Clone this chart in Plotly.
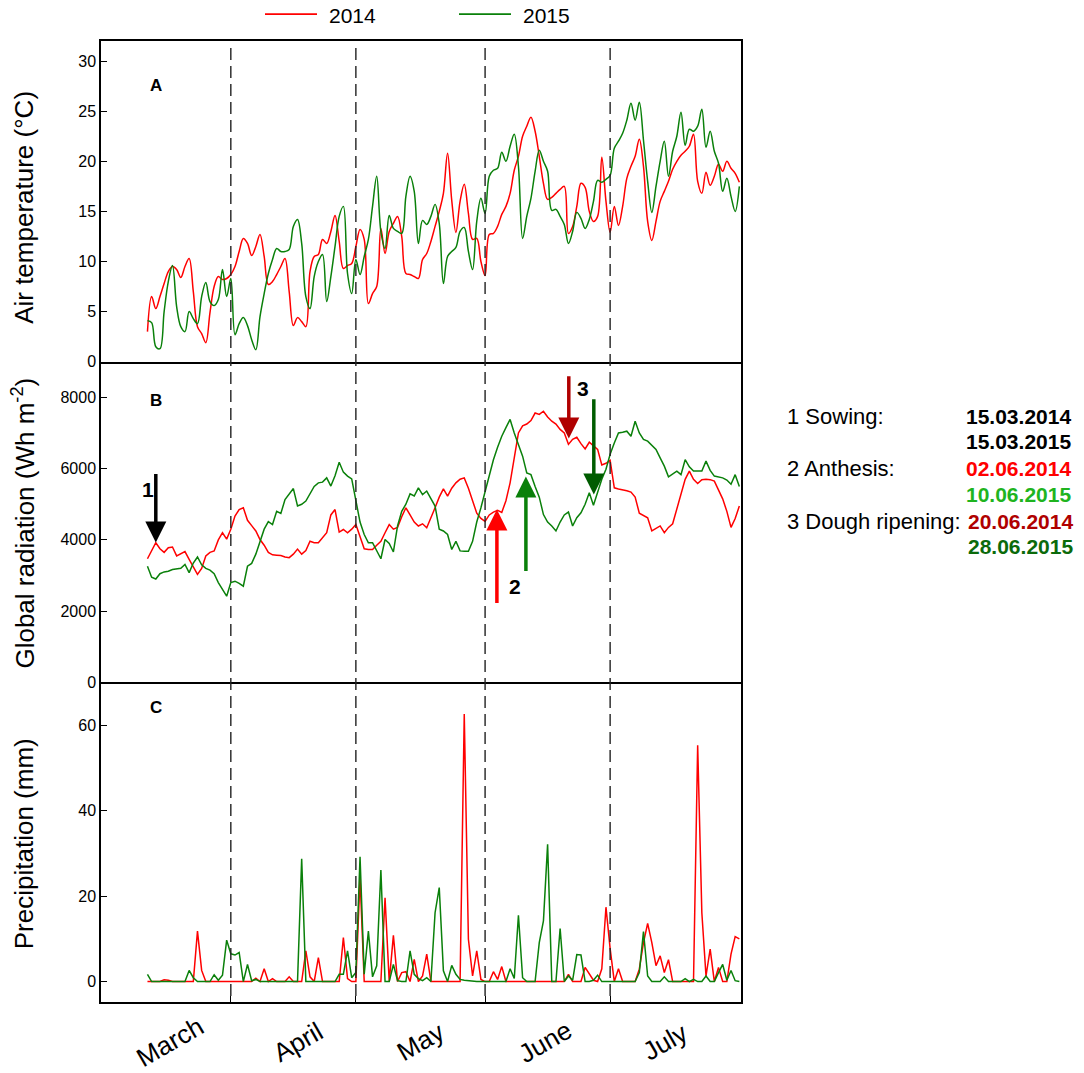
import pandas as pd
import plotly.graph_objects as go
from plotly.subplots import make_subplots

# Daily weather, 12 March - 1 August (both seasons drawn on one calendar axis)
start_day = "2014-03-12"

temp_2014 = [3.0, 6.5, 5.3, 6.5, 7.8, 9.0, 9.5, 9.2, 8.4, 9.5,
             10.3, 7.0, 3.5, 2.8, 1.9, 4.9, 7.5, 8.5, 8.2, 8.3,
             8.7, 9.5, 11.0, 12.3, 11.8, 10.6, 11.5, 12.7, 10.5, 7.7,
             8.0, 8.7, 9.5, 10.3, 7.0, 3.6, 4.4, 4.0, 3.5, 9.0,
             10.5, 10.7, 12.2, 11.8, 13.0, 14.6, 12.0, 9.3, 9.6, 9.8,
             11.5, 13.2, 12.2, 5.8, 6.8, 7.5, 13.3, 10.8, 13.0, 13.8,
             14.5, 12.5, 8.8, 8.7, 8.5, 8.3, 10.2, 10.8, 12.0, 13.5,
             15.0, 16.8, 20.8, 16.1, 12.9, 16.0, 17.7, 14.8, 12.2, 12.3,
             10.0, 8.6, 12.7, 12.8, 13.5, 14.7, 15.5, 16.8, 19.1, 20.5,
             22.5, 23.5, 24.4, 23.0, 20.5, 17.8, 16.2, 16.4, 16.8, 17.2,
             17.5, 12.8, 13.5, 15.5, 17.8, 17.4, 15.0, 14.0, 14.5, 20.4,
             16.0, 12.9, 15.5, 13.6, 15.5, 18.3, 19.5, 20.5, 22.2, 19.5,
             14.0, 12.1, 14.0, 16.0, 17.0, 18.0, 19.2, 20.0, 20.6, 21.0,
             21.5, 22.7, 18.0, 16.8, 18.9, 17.6, 18.5, 19.7, 19.0, 20.0,
             19.3, 18.8, 17.9]

temp_2015 = [4.1, 3.9, 1.5, 1.3, 5.0, 8.0, 9.6, 5.5, 3.5, 3.0,
             5.0, 4.3, 3.8, 6.5, 7.9, 6.0, 5.6, 6.2, 9.2, 6.5,
             8.3, 2.7, 3.8, 4.4, 3.6, 2.2, 1.2, 4.5, 6.8, 8.8,
             10.2, 11.3, 11.0, 11.0, 11.2, 13.5, 14.2, 11.8, 6.5, 5.3,
             8.5, 10.0, 10.7, 6.0, 8.5, 11.5, 14.5, 15.5, 8.8, 6.8,
             10.2, 8.7, 10.5, 12.2, 15.5, 18.5, 13.0, 11.3, 14.6, 13.3,
             13.0, 12.8, 16.5, 18.5, 17.0, 11.8, 14.1, 13.7, 14.5, 15.7,
             13.8, 7.8, 10.5, 11.0, 11.4, 13.0, 13.4, 11.0, 9.2, 14.0,
             16.3, 14.8, 18.5, 19.1, 19.3, 20.9, 20.0, 21.5, 22.7, 19.5,
             12.3, 14.5, 16.3, 19.0, 21.1, 20.0, 19.0, 15.1, 15.2, 14.5,
             13.7, 11.8, 13.0, 14.9, 14.3, 13.3, 14.2, 16.0, 18.1, 17.9,
             18.2, 18.6, 21.3, 22.0, 22.8, 24.1, 25.8, 24.1, 25.9, 22.1,
             18.0, 14.9, 17.5, 20.0, 22.0, 18.5, 21.0, 22.5, 24.9, 21.6,
             23.2, 23.0, 23.5, 25.2, 21.4, 23.0, 21.0, 19.8, 17.0, 18.3,
             16.5, 15.0, 17.5]

rad_2014 = [3470, 3700, 3920, 3750, 3650, 3780, 3800, 3550, 3600, 3670,
            3450, 3250, 3030, 3200, 3550, 3650, 3690, 4000, 4200, 4020,
            4300, 4670, 4850, 4900, 4550, 4400, 4250, 4010, 3850, 3650,
            3580, 3570, 3560, 3520, 3500, 3600, 3740, 3600, 3700, 3960,
            3920, 3920, 4050, 4200, 4700, 4850, 4220, 4290, 4200, 4300,
            4430, 4100, 3750, 3730, 3730, 3850, 3960, 4200, 4430, 4300,
            4350, 4650, 4900, 4700, 4500, 4390, 4450, 4340, 4600, 4900,
            5200, 5430, 5230, 5450, 5600, 5700, 5740, 5450, 5100, 4750,
            4600, 4520, 4700, 4780, 4830, 4770, 5100, 5600, 6300, 7000,
            7200, 7250, 7350, 7560, 7520, 7610, 7450, 7330, 7250, 7100,
            7000, 6680, 6820, 6880, 6700, 6550, 6740, 6650, 6540, 6100,
            6150, 6230, 5460, 5430, 5410, 5380, 5340, 5200, 4750, 4680,
            4620, 4250, 4330, 4390, 4200, 4350, 4450, 4850, 5250, 5700,
            5930, 5700, 5580, 5690, 5700, 5690, 5650, 5400, 5150, 4800,
            4350, 4600, 4950]

rad_2015 = [3260, 2950, 2900, 3050, 3100, 3120, 3170, 3180, 3200, 3310,
            3080, 3350, 3520, 3300, 3200, 3150, 3050, 2800, 2600, 2420,
            2800, 2840, 2780, 2700, 3260, 3340, 3600, 3960, 4300, 4510,
            4430, 4800, 4740, 5130, 5300, 5440, 4950, 5000, 5090, 5300,
            5500, 5600, 5620, 5740, 5510, 5800, 6180, 5900, 5790, 5710,
            5100, 4500, 4150, 3920, 3920, 3700, 3470, 4010, 3900, 3660,
            4390, 4800, 5000, 5290, 5230, 5460, 5270, 5370, 5150, 4950,
            4300, 4250, 4150, 3730, 3960, 3690, 3680, 3680, 3960, 4500,
            4900, 5370, 5800, 6250, 6600, 6910, 7150, 7380, 7000, 6700,
            6350, 5880, 5830, 5500, 5200, 4710, 4500, 4390, 4250, 4500,
            4700, 4780, 4390, 4620, 4760, 5000, 5320, 4970, 5370, 5700,
            5980, 6400, 6720, 7000, 7020, 7050, 6910, 7330, 7000, 6820,
            6770, 6650, 6540, 6300, 6070, 5770, 5850, 5930, 5830, 6250,
            6050, 5930, 5930, 5930, 6210, 5950, 5790, 5760, 5740, 5680,
            5560, 5830, 5500]

prec_2014 = [0, 0, 0, 0, 0.4, 0.3, 0, 0, 0, 0,
             0, 0, 11.8, 2.6, 0, 0, 0, 0, 0, 0,
             0, 0, 0, 0, 0, 0, 0.8, 0, 3.0, 0,
             0.7, 0, 0, 0, 1.1, 0, 0, 0, 7.2, 1.1,
             0, 5.6, 0, 0, 0, 0, 0, 10.3, 0.7, 0,
             0, 24.3, 0, 0, 0, 0, 0, 19.6, 0, 10.8,
             0, 2.1, 2.3, 0, 5.2, 0, 1.3, 6.4, 0, 0,
             0, 0, 0, 0, 0, 0, 62.6, 9.9, 1.3, 7.2,
             0.5, 0, 0, 2.3, 0.5, 3.5, 0, 0, 0, 0,
             0, 0, 0, 0, 0, 0, 0, 0, 0, 0,
             0, 1.7, 0, 0, 0, 3.3, 1.7, 0.3, 0, 3.0,
             17.4, 7.7, 0, 3.0, 0, 0, 0, 0, 2.9, 9.1,
             13.6, 9.1, 3.7, 6.0, 2.1, 5.1, 0, 0, 0, 0,
             0, 0, 55.3, 16.1, 1.3, 7.6, 0, 3.3, 0, 0,
             6.4, 10.5, 10.0]

prec_2015 = [1.7, 0, 0, 0, 0, 0, 0, 0, 0, 0,
             2.6, 0.9, 0, 0, 0, 0, 1.6, 0.3, 1.5, 9.7,
             6.5, 6.2, 6.8, 0, 4.0, 0.2, 0.5, 0, 0, 0,
             0, 0, 0, 0, 0, 0, 0, 28.7, 0, 0,
             0, 0, 0, 0, 0, 0, 1.7, 1.7, 7.2, 0.9,
             2.1, 29.2, 1.7, 11.8, 1.1, 3.7, 26.1, 0, 0, 4.0,
             0.2, 0, 0, 7.2, 1.7, 0.7, 0.2, 0.9, 0, 16.1,
             22.0, 2.5, 0, 3.8, 1.7, 0.5, 0.3, 0.2, 0, 0,
             0, 0, 0, 0, 0, 0, 0, 3.0, 0.7, 15.5,
             0.9, 0, 0, 0, 9.1, 14.2, 32.1, 0, 0, 12.4,
             0, 1.3, 0.3, 6.3, 6.2, 0, 0, 0.3, 1.5, 0,
             0, 0, 0, 0, 0, 0, 0, 0, 2.1, 11.7,
             1.3, 0, 0, 0, 1.1, 0, 0, 0, 0, 0.7,
             0, 0.5, 0, 0, 1.3, 0, 0, 2.1, 4.0, 0.3,
             2.6, 0.2, 0]

month_starts = ["2014-04-01", "2014-05-01", "2014-06-01", "2014-07-01"]
month_names = ["March", "April", "May", "June", "July"]

# phenology dates (arrows), 2014 / 2015
sowing = "2014-03-14"
anthesis_14, anthesis_15 = "2014-06-03 20:00", "2014-06-10 19:00"
dough_14, dough_15 = "2014-06-21 02:00", "2014-06-27 02:00"

# page puts the figure 8px in from the corner and the shot squeezes height a little
OFF = 8
SY = 1073 / 1081
W, H = 1084 - OFF, 1073
FONT = "Arial, Liberation Sans, sans-serif"
RED, GREEN = "#ff0000", "#0a800a"


def px(x):
    return (x - OFF) / W


def py(y):
    return 1 - (y / SY - OFF) / H


days = pd.date_range(start_day, periods=len(temp_2014), freq="D")

fig = make_subplots(rows=3, cols=1, shared_xaxes=True, vertical_spacing=0)

fig.add_trace(go.Scatter(x=days, y=temp_2014, name="2014", mode="lines",
                         line=dict(color=RED, width=1.5, shape="spline", smoothing=1.0)), row=1, col=1)
fig.add_trace(go.Scatter(x=days, y=temp_2015, name="2015", mode="lines",
                         line=dict(color=GREEN, width=1.5, shape="spline", smoothing=1.0)), row=1, col=1)
fig.add_trace(go.Scatter(x=days, y=rad_2014, mode="lines",
                         line=dict(color=RED, width=1.5)), row=2, col=1)
fig.add_trace(go.Scatter(x=days, y=rad_2015, mode="lines",
                         line=dict(color=GREEN, width=1.5)), row=2, col=1)
fig.add_trace(go.Scatter(x=days, y=prec_2014, mode="lines",
                         line=dict(color=RED, width=1.5)), row=3, col=1)
fig.add_trace(go.Scatter(x=days, y=prec_2015, mode="lines",
                         line=dict(color=GREEN, width=1.5)), row=3, col=1)

x_range = ["2014-02-28 20:30", "2014-08-01 09:30"]
line_style = dict(showline=True, linecolor="black", linewidth=1.5,
                  showgrid=False, zeroline=False)

for r in (1, 2, 3):
    fig.update_xaxes(row=r, col=1, domain=[px(101), px(741)], range=x_range,
                     showticklabels=False, ticks="", mirror=(r == 1), **line_style)
fig.update_xaxes(row=3, col=1, tickvals=month_starts, ticks="inside",
                 ticklen=6, tickcolor="black", tickwidth=1.2)

ytick = dict(ticks="inside", ticklen=6, tickcolor="black", tickwidth=1.2, mirror=True,
             tickfont=dict(size=16, color="black", family=FONT))
fig.update_yaxes(row=1, col=1, domain=[py(362), py(41)], range=[0, 32],
                 tickvals=[0, 5, 10, 15, 20, 25, 30], **ytick, **line_style)
fig.update_yaxes(row=2, col=1, domain=[py(683), py(362)], range=[0, 9000],
                 tickvals=[0, 2000, 4000, 6000, 8000], **ytick, **line_style)
fig.update_yaxes(row=3, col=1, domain=[py(1003), py(683)], range=[-4.8, 70],
                 tickvals=[0, 20, 40, 60], **ytick, **line_style)

# dashed month separators through all panels
for m in month_starts:
    fig.add_shape(type="line", xref="x3", yref="paper", x0=m, x1=m,
                  y0=py(48), y1=py(1003),
                  line=dict(color="#222222", width=1.4, dash="12px,6px"))

# legend drawn at the top
for x0, col, label in [(265, RED, "2014"), (459, GREEN, "2015")]:
    fig.add_shape(type="line", xref="paper", yref="paper", x0=px(x0), x1=px(x0 + 52),
                  y0=py(14), y1=py(14), line=dict(color=col, width=1.8))
    fig.add_annotation(xref="paper", yref="paper", x=px(x0 + 62), y=py(15),
                       text=label, showarrow=False, xanchor="left", yanchor="middle",
                       font=dict(size=21, color="black", family=FONT))

ann = []
# y axis titles
for y, txt in [(208, "Air temperature (°C)"),
               (524, "Global radiation (Wh m<sup>-2</sup>)"),
               (845, "Precipitation (mm)")]:
    ann.append(dict(xref="paper", yref="paper", x=px(24), y=py(y), text=txt,
                    textangle=-90, showarrow=False, xanchor="center", yanchor="middle",
                    font=dict(size=26, color="black", family=FONT)))

# panel letters
for y, txt in [(74, "A"), (401, "B"), (720, "C")]:
    ann.append(dict(xref="paper", yref="paper", x=px(148), y=py(y), text="<b>%s</b>" % txt,
                    showarrow=False, font=dict(size=17, color="black", family=FONT)))

# month labels
for x, name in zip([170, 298, 420, 545, 665], month_names):
    ann.append(dict(xref="paper", yref="paper", x=px(x), y=py(1043), text=name,
                    textangle=-30, showarrow=False, xanchor="center", yanchor="middle",
                    font=dict(size=26, color="black", family=FONT)))

# phenology arrows in panel B
for x, tip, tail, col in [(sowing, 3926, 5888, "black"),
                          (anthesis_14, 4851, 2187, RED),
                          (anthesis_15, 5776, 3084, "#0a800a"),
                          (dough_14, 6842, 8636, "#b00000"),
                          (dough_15, 5272, 7991, "#005c00")]:
    ann.append(dict(xref="x2", yref="y2", x=x, y=tip, axref="x2", ayref="y2",
                    ax=x, ay=tail, text="", showarrow=True, arrowhead=2,
                    arrowsize=1.2, arrowwidth=3.5, arrowcolor=col, standoff=0))

for x, y, txt in [(140, 490, "1"), (515, 587, "2"), (583, 389, "3")]:
    ann.append(dict(xref="paper", yref="paper", x=px(x), y=py(y), text="<b>%s</b>" % txt,
                    showarrow=False, font=dict(size=21, color="black", family=FONT)))

# stage dates on the right
rows = [(417, "1 Sowing:", "15.03.2014", "black", 964),
        (442, "", "15.03.2015", "black", 964),
        (469, "2 Anthesis:", "02.06.2014", "#ff0000", 964),
        (495, "", "10.06.2015", "#1fb41f", 964),
        (522, "3 Dough ripening:", "20.06.2014", "#b00000", 966),
        (547, "", "28.06.2015", "#0b6a0b", 966)]
for y, stage, date, col, xd in rows:
    if stage:
        ann.append(dict(xref="paper", yref="paper", x=px(785), y=py(y), text=stage,
                        showarrow=False, xanchor="left", yanchor="middle",
                        font=dict(size=22, color="black", family=FONT)))
    ann.append(dict(xref="paper", yref="paper", x=px(xd), y=py(y), text="<b>%s</b>" % date,
                    showarrow=False, xanchor="left", yanchor="middle",
                    font=dict(size=21, color=col, family=FONT)))

for a in ann:
    fig.add_annotation(**a)

fig.update_layout(width=W, height=H, margin=dict(l=0, r=0, t=0, b=0),
                  paper_bgcolor="white", plot_bgcolor="white", showlegend=False,
                  font=dict(family=FONT, color="black"))

fig.write_html("out.html")
